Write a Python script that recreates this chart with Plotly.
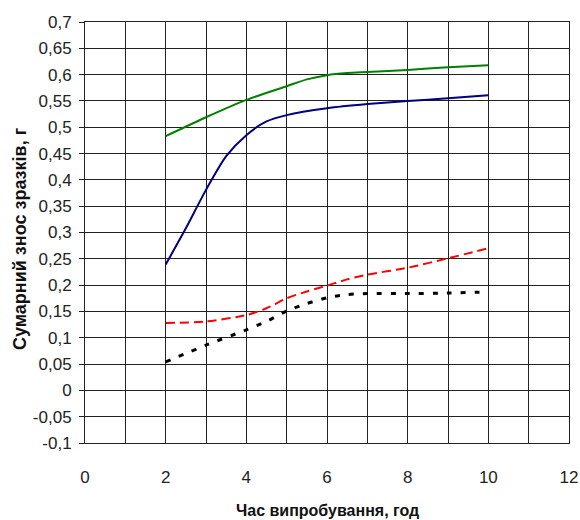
import plotly.graph_objects as go

# ---- data ----
hours_green = [2, 3, 4, 5, 5.5, 6, 6.5, 7, 8, 9, 10]
wear_green = [0.483, 0.519, 0.552, 0.578, 0.591, 0.599, 0.603, 0.605, 0.609, 0.614, 0.618]

hours_blue = [2, 2.5, 3, 3.5, 4, 4.5, 5, 6, 7, 8, 9, 10]
wear_blue = [0.239, 0.308, 0.381, 0.445, 0.485, 0.511, 0.523, 0.536, 0.544, 0.550, 0.555, 0.561]

hours_red = [2, 3, 4, 4.5, 5, 5.5, 6, 6.5, 7, 8, 9, 10]
wear_red = [0.128, 0.131, 0.143, 0.156, 0.175, 0.188, 0.199, 0.211, 0.220, 0.233, 0.251, 0.270]

hours_black = [2, 3, 4, 4.5, 5, 5.5, 6, 6.5, 7, 8, 9, 10]
wear_black = [0.054, 0.086, 0.115, 0.131, 0.151, 0.165, 0.176, 0.182, 0.184, 0.184, 0.185, 0.187]

x_ticks = [0, 2, 4, 6, 8, 10, 12]
y_ticks = [-0.1, -0.05, 0, 0.05, 0.1, 0.15, 0.2, 0.25, 0.3, 0.35, 0.4, 0.45, 0.5, 0.55, 0.6, 0.65, 0.7]
y_tick_labels = ["-0,1", "-0,05", "0", "0,05", "0,1", "0,15", "0,2", "0,25", "0,3", "0,35",
                 "0,4", "0,45", "0,5", "0,55", "0,6", "0,65", "0,7"]

x_title = "Час випробування, год"
y_title = "Сумарний знос зразків, г"

FONT = "Liberation Sans, Arial, sans-serif"

fig = go.Figure()
fig.add_trace(go.Scatter(x=hours_green, y=wear_green, mode="lines",
                         line=dict(color="#008000", width=2, shape="spline", smoothing=0.7)))
fig.add_trace(go.Scatter(x=hours_blue, y=wear_blue, mode="lines",
                         line=dict(color="#000080", width=2, shape="spline", smoothing=0.7)))
fig.add_trace(go.Scatter(x=hours_red, y=wear_red, mode="lines",
                         line=dict(color="#ff0000", width=2, shape="spline", smoothing=0.7,
                                   dash="9px,5px")))
fig.add_trace(go.Scatter(x=hours_black, y=wear_black, mode="lines",
                         line=dict(color="#000000", width=3, shape="spline", smoothing=0.7,
                                   dash="5px,9px")))

fig.update_layout(
    width=580, height=520,
    margin=dict(l=85, r=11, t=22, b=77),
    plot_bgcolor="white", paper_bgcolor="white",
    showlegend=False,
    font=dict(family=FONT, color="#222222"),
    annotations=[
        dict(text=x_title, xref="paper", yref="paper", x=(327 - 85) / 484, y=-(510 - 443) / 421,
             xanchor="center", yanchor="middle", showarrow=False,
             font=dict(size=16, family=FONT, weight="bold", color="#111111")),
        dict(text=y_title, xref="paper", yref="paper", x=-(85 - 20) / 484, y=(443 - 239) / 421,
             xanchor="center", yanchor="middle", showarrow=False, textangle=-90,
             font=dict(size=18, family=FONT, weight="bold", color="#111111")),
    ],
)
fig.update_xaxes(
    range=[0, 12], tickvals=x_ticks, ticktext=[str(v) for v in x_ticks],
    showgrid=True, gridcolor="#222222", gridwidth=1,
    minor=dict(dtick=1, showgrid=True, gridcolor="#222222", gridwidth=1),
    showline=True, linecolor="#222222", linewidth=1, mirror=True,
    ticks="", ticklabelstandoff=19, zeroline=False, automargin=False,
    tickfont=dict(size=17, family=FONT, color="#222222"),
)
fig.update_yaxes(
    range=[-0.1, 0.7], tickvals=y_ticks, ticktext=y_tick_labels,
    showgrid=True, gridcolor="#222222", gridwidth=1,
    showline=True, linecolor="#222222", linewidth=1, mirror=True,
    ticks="outside", ticklen=5, tickcolor="#222222", ticklabelstandoff=4, zeroline=False,
    automargin=False,
    tickfont=dict(size=17, family=FONT, color="#222222"),
)

fig.write_html("out.html", config={"displayModeBar": False},
               post_script="document.body.style.margin='0';document.body.style.overflow='hidden';")
